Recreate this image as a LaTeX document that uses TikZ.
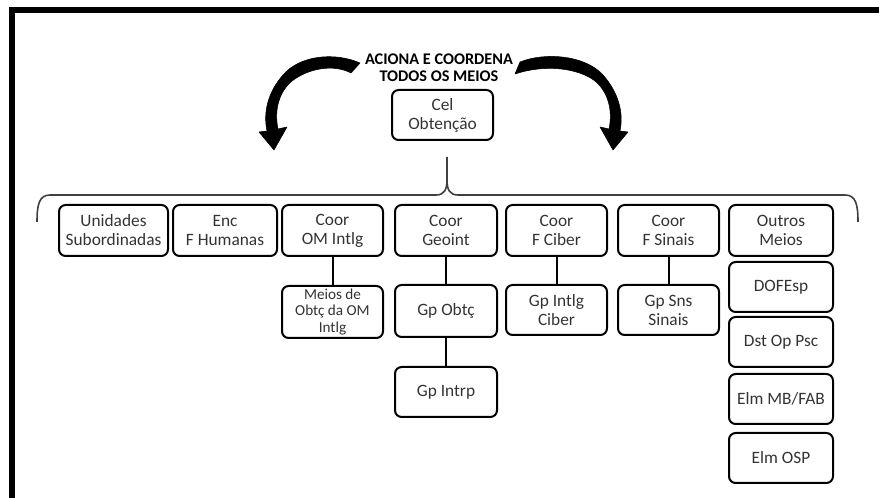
\documentclass[tikz,border=0pt]{standalone}
\usepackage{fontspec}
\setmainfont{Carlito}
\begin{document}
\begin{tikzpicture}[x=0.75pt,y=-0.75pt,
  box/.style={draw=black, line width=1.5pt, rounded corners=5pt, align=center,
    inner sep=0pt, text=black!80, font=\fontsize{13}{14.3}\selectfont},
  small/.style={font=\fontsize{11.4}{12.6}\selectfont},
  sz/.style 2 args={minimum width=#1*0.75pt, minimum height=#2*0.75pt},
  link/.style={draw=black, line width=1.5pt},
  brace/.style={draw=black!75, line width=1.2pt},
  curvedarrow/.style={fill=black, draw=black, line width=0.4pt, line join=round}]
\useasboundingbox (0,0) rectangle (879,498);

% outer frame
\draw[line width=4.5pt, line join=miter] (12,510) -- (12,10) -- (890,10);

% heading and top box
\node[font=\bfseries\fontsize{12.2}{12.8}\selectfont, align=center] (lbl) at (439,68)
  {ACIONA E COORDENA\\TODOS OS MEIOS};
\node[box, sz={101}{50}] (cel) at (442.5,115) {Cel\\Obtenção};

% curved arrows on each side of the heading
\path[curvedarrow] (360,63) .. controls (335,52) and (300,55) .. (283,75)
  .. controls (268,92) and (263,112) .. (267,131)
  -- (259,132) -- (274,150) -- (287,127) -- (278,129)
  .. controls (274,110) and (279,92) .. (292,81)
  .. controls (309,68) and (334,64) .. (351,73) -- cycle;
\path[curvedarrow] (520,62) .. controls (545,52) and (585,55) .. (603,75)
  .. controls (618,92) and (624,112) .. (620,131)
  -- (628,132) -- (613,150) -- (600,127) -- (609,129)
  .. controls (613,110) and (608,92) .. (595,81)
  .. controls (578,68) and (545,64) .. (515,74) -- cycle;

% horizontal brace
\coordinate (bl) at (37,222);
\coordinate (br) at (858,222);
\coordinate (bm) at (447,157);
\draw[brace] (bl) .. controls (37,205) and (39,195) .. (50,195) -- (436,195)
  .. controls (444,195) and (447,190) .. (447,180) -- (bm);
\draw[brace] (447,180) .. controls (447,190) and (450,195) .. (458,195) -- (845,195)
  .. controls (856,195) and (858,205) .. (br);

% first row
\node[box, sz={109}{51}] (uni) at (113.5,230.5) {Unidades\\Subordinadas};
\node[box, sz={104}{51}] (enc) at (225,230.5) {Enc\\F Humanas};
\node[box, sz={101}{51}] (om) at (332.5,230.5) {Coor\\OM Intlg};
\node[box, sz={102}{51}] (geo) at (446,230.5) {Coor\\Geoint};
\node[box, sz={101}{51}] (cib) at (556.5,230.5) {Coor\\F Ciber};
\node[box, sz={101}{51}] (sin) at (668.5,230.5) {Coor\\F Sinais};
\node[box, sz={104}{51}] (out) at (781,230.5) {Outros\\Meios};

% second row
\node[box, small, sz={101}{52}] (meios) at (332.5,312) {Meios de\\Obtç da OM\\Intlg};
\node[box, sz={102}{52}] (gpobtc) at (446,311) {Gp Obtç};
\node[box, sz={101}{50}] (gpcib) at (556.5,310) {Gp Intlg\\Ciber};
\node[box, sz={101}{50}] (gpsns) at (668.5,310) {Gp Sns\\Sinais};
\node[box, sz={102}{50}] (gpintrp) at (446,392) {Gp Intrp};

% other means column
\node[box, sz={104}{50}] (dofesp) at (781,287) {DOFEsp};
\node[box, sz={104}{50}] (dst) at (781,342) {Dst Op Psc};
\node[box, sz={104}{50}] (elm) at (781,399) {Elm MB/FAB};
\node[box, sz={104}{50}] (osp) at (781,458) {Elm OSP};

% links
\draw[link] (om.south) -- (meios.north);
\draw[link] (geo.south) -- (gpobtc.north);
\draw[link] (gpobtc.south) -- (gpintrp.north);
\draw[link] (cib.south) -- (gpcib.north);
\draw[link] (sin.south) -- (gpsns.north);
\end{tikzpicture}
\end{document}
